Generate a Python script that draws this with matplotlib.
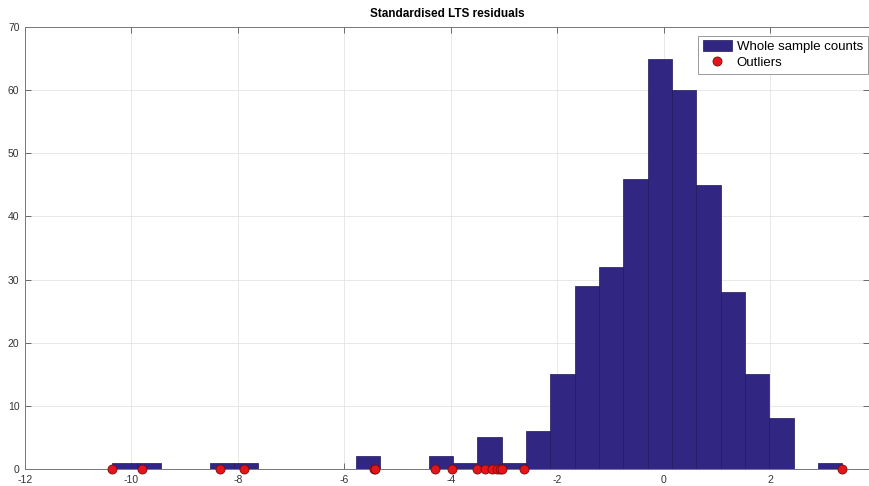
import matplotlib
matplotlib.use("Agg")
import matplotlib.pyplot as plt
import numpy as np

# histogram: 30 bins from min to max of the residuals
bin_start = -10.36
bin_width = 0.457
counts = [1, 1, 0, 0, 1, 1, 0, 0, 0, 0,
          2, 0, 0, 2, 1, 5, 1, 6, 15, 29,
          32, 46, 65, 60, 45, 28, 15, 8, 0, 1]

# positions of the red outlier markers (all at count 0)
outliers = [-10.36, -9.80, -8.33, -7.88, -5.45, -5.43, -4.30, -3.99,
            -3.52, -3.36, -3.23, -3.13, -3.08, -3.05, -2.63, 3.34]

xticks = [-12, -10, -8, -6, -4, -2, 0, 2]
yticks = [0, 10, 20, 30, 40, 50, 60, 70]

plt.rcParams['font.family'] = ['Liberation Sans', 'DejaVu Sans']
plt.rcParams['axes.unicode_minus'] = False

edges = bin_start + bin_width * np.arange(len(counts) + 1)

fig = plt.figure(figsize=(8.69, 4.86), dpi=100)
ax = fig.add_axes([25 / 869, 17 / 486, 1 - 25 / 869, (469 - 27) / 486])

bars = ax.bar(edges[:-1], counts, width=np.diff(edges), align='edge',
              color='#312783', edgecolor='#1e1858', linewidth=0.5, zorder=2)
dots, = ax.plot(outliers, np.zeros(len(outliers)), 'o', color='#e3151a',
                markeredgecolor='#7a0a0a', markeredgewidth=0.6, markersize=6.5,
                clip_on=False, zorder=4)

ax.set_xlim(-12, 3.85)
ax.set_ylim(0, 70)
ax.set_xticks(xticks)
ax.set_yticks(yticks)
ax.tick_params(direction='in', length=4, width=0.6, colors='#555555',
               labelsize=7.5, top=True, right=True)
ax.tick_params(axis='x', labelcolor='#333333', pad=4)
ax.tick_params(axis='y', labelcolor='#333333', pad=4)
ax.grid(True, color='#e4e4e4', linewidth=0.6, zorder=0)
ax.set_axisbelow(True)
for s in ax.spines.values():
    s.set_color('#777777')
    s.set_linewidth(0.7)

ax.set_title('Standardised LTS residuals', fontsize=8.5, fontweight='bold',
             pad=7)

leg = ax.legend([bars, dots], ['Whole sample counts', 'Outliers'],
                loc='upper right', bbox_to_anchor=(0.9985, 0.98),
                fontsize=9.5, fancybox=False, framealpha=1,
                edgecolor='#999999', handlelength=2.2, handleheight=0.9,
                handletextpad=0.4, borderpad=0.35, labelspacing=0.2,
                borderaxespad=0)
leg.get_frame().set_linewidth(0.7)

fig.savefig('out.png', dpi=100)
